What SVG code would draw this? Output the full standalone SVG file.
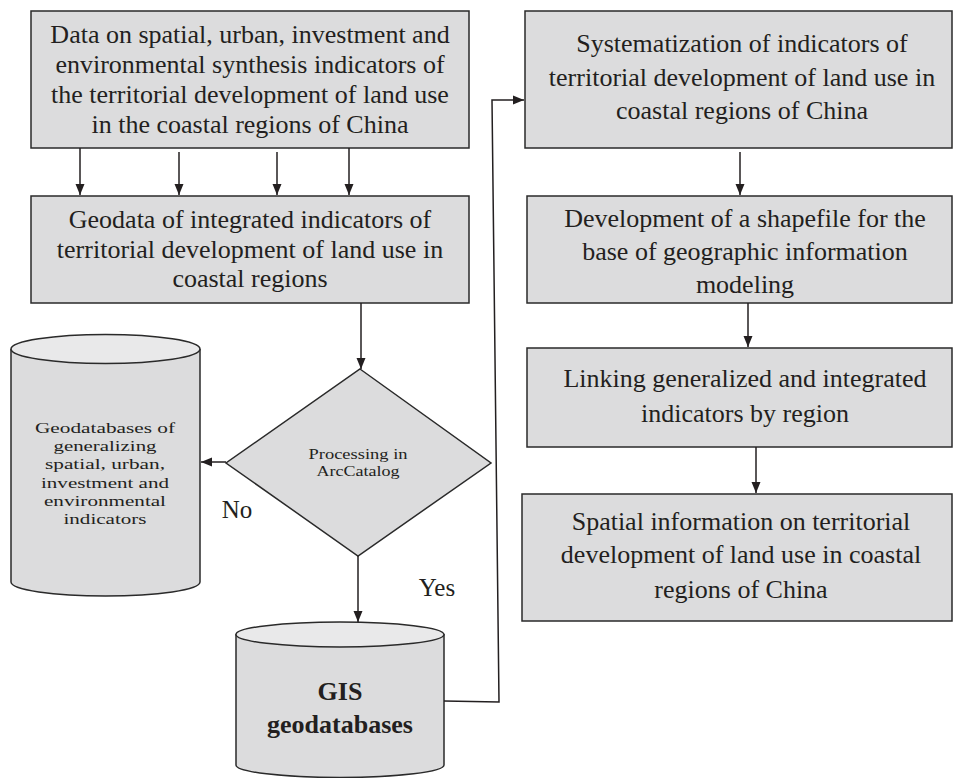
<svg xmlns="http://www.w3.org/2000/svg" width="953" height="778" viewBox="0 0 953 778">
<style>
.box{fill:#dcdcdd;stroke:#2a2a2a;stroke-width:1.5}
.top{fill:#e9e9ea;stroke:#2a2a2a;stroke-width:1.5}
.t{font-family:'Liberation Serif','Times New Roman',Times,'DejaVu Serif',serif;fill:#231f20;text-anchor:middle}
.big{font-size:26px}
.sm{font-size:15.5px}
.dm{font-size:14.5px}
.bold{font-size:26px;font-weight:bold}
.c{fill:none;stroke:#231f20;stroke-width:1.5}
</style>
<defs>
<marker id="ah" markerUnits="userSpaceOnUse" markerWidth="12" markerHeight="10" refX="11" refY="5" orient="auto">
<path d="M0,0.5 L11,5 L0,9.5 z" fill="#231f20"/>
</marker>
</defs>
<rect width="953" height="778" fill="#fff"/>

<g id="n_data">
<rect class="box" x="31" y="11" width="438" height="137"/>
<text class="t big" x="250" y="43">Data on spatial, urban, investment and</text>
<text class="t big" x="250" y="73">environmental synthesis indicators of</text>
<text class="t big" x="250" y="103">the territorial development of land use</text>
<text class="t big" x="250" y="133">in the coastal regions of China</text>
</g>

<g id="n_geodata">
<rect class="box" x="31" y="196" width="438" height="107"/>
<text class="t big" x="250" y="228">Geodata of integrated indicators of</text>
<text class="t big" x="250" y="258">territorial development of land use in</text>
<text class="t big" x="250" y="287">coastal regions</text>
</g>

<g id="n_geodb">
<path class="box" d="M11,349 L11,582 A94.5,14 0 0 0 200,582 L200,349"/>
<ellipse class="top" cx="105.5" cy="349" rx="94.5" ry="14.5"/>
<text class="t sm" x="105" y="433" textLength="140" lengthAdjust="spacingAndGlyphs">Geodatabases of</text>
<text class="t sm" x="105" y="451" textLength="103" lengthAdjust="spacingAndGlyphs">generalizing</text>
<text class="t sm" x="105" y="469" textLength="120" lengthAdjust="spacingAndGlyphs">spatial, urban,</text>
<text class="t sm" x="105" y="488" textLength="128" lengthAdjust="spacingAndGlyphs">investment and</text>
<text class="t sm" x="105" y="506" textLength="122" lengthAdjust="spacingAndGlyphs">environmental</text>
<text class="t sm" x="105" y="524" textLength="83" lengthAdjust="spacingAndGlyphs">indicators</text>
</g>

<g id="n_decision">
<polygon class="box" points="360,369 491,463 358,556 226,463"/>
<text class="t dm" x="358" y="459" textLength="99" lengthAdjust="spacingAndGlyphs">Processing in</text>
<text class="t dm" x="358" y="476" textLength="83" lengthAdjust="spacingAndGlyphs">ArcCatalog</text>
</g>

<g id="n_gis">
<path class="box" d="M236,634 L236,765 A104,12.5 0 0 0 444,765 L444,634"/>
<ellipse class="top" cx="340" cy="634.5" rx="104" ry="12.5"/>
<text class="t bold" x="340" y="700">GIS</text>
<text class="t bold" x="340" y="733">geodatabases</text>
</g>

<g id="n_system">
<rect class="box" x="525" y="11" width="427" height="137"/>
<text class="t big" x="742" y="52">Systematization of indicators of</text>
<text class="t big" x="742" y="86">territorial development of land use in</text>
<text class="t big" x="742" y="119">coastal regions of China</text>
</g>

<g id="n_shape">
<rect class="box" x="527" y="196" width="425" height="107"/>
<text class="t big" x="745" y="227">Development of a shapefile for the</text>
<text class="t big" x="745" y="260">base of geographic information</text>
<text class="t big" x="745" y="293">modeling</text>
</g>

<g id="n_link">
<rect class="box" x="527" y="348" width="425" height="99"/>
<text class="t big" x="745" y="387">Linking generalized and integrated</text>
<text class="t big" x="745" y="422">indicators by region</text>
</g>

<g id="n_spatial">
<rect class="box" x="522" y="494" width="430" height="127"/>
<text class="t big" x="741" y="530">Spatial information on territorial</text>
<text class="t big" x="741" y="563">development of land use in coastal</text>
<text class="t big" x="741" y="598">regions of China</text>
</g>

<g id="connectors">
<line class="c" x1="80" y1="148" x2="80" y2="195" marker-end="url(#ah)"/>
<line class="c" x1="179" y1="152" x2="179" y2="195" marker-end="url(#ah)"/>
<line class="c" x1="277" y1="152" x2="277" y2="195" marker-end="url(#ah)"/>
<line class="c" x1="349" y1="148" x2="349" y2="195" marker-end="url(#ah)"/>
<line class="c" x1="361" y1="303" x2="361" y2="369" marker-end="url(#ah)"/>
<line class="c" x1="226" y1="462" x2="201" y2="462" marker-end="url(#ah)"/>
<line class="c" x1="358" y1="556" x2="358" y2="622" marker-end="url(#ah)"/>
<polyline class="c" points="444,701 499,702 492,100 524,100" marker-end="url(#ah)"/>
<line class="c" x1="740" y1="152" x2="740" y2="195" marker-end="url(#ah)"/>
<line class="c" x1="748" y1="303" x2="748" y2="347" marker-end="url(#ah)"/>
<line class="c" x1="756" y1="447" x2="756" y2="493" marker-end="url(#ah)"/>
<text class="t" style="font-size:25px" x="237" y="518">No</text>
<text class="t" style="font-size:25px" x="437" y="596">Yes</text>
</g>
</svg>
